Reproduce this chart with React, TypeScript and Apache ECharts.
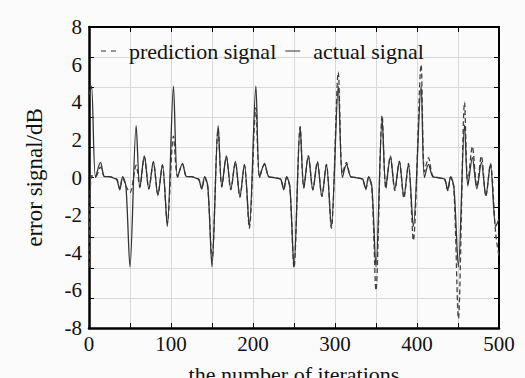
import React, { useEffect, useRef } from 'react';
import * as echarts from 'echarts';

const iterations = [
  0, 3, 8, 14, 19, 25, 31, 34, 37.5, 41, 45, 50, 57.5, 62, 67.5, 73, 78.5, 84, 89.5, 95.5,
  103, 108, 114, 119, 125, 131, 134, 137.5, 141, 145, 150, 157.5, 162, 167.5, 173, 178.5, 184, 189.5, 195.5,
  203.5, 208, 214, 219, 225, 231, 234, 237.5, 241, 245, 250, 257.5, 262, 267.5, 273, 278.5, 284, 289.5, 295.5,
  304, 309, 314, 319, 325, 331, 334, 337.5, 341, 345, 350, 357.5, 362, 367.5, 373, 378.5, 384, 389.5, 395.5,
  405, 409, 414, 419, 425, 431, 434, 437.5, 441, 445, 450.5, 458, 462, 467.5, 473, 478.5, 484, 489.5, 496, 500,
];

const actualSignal = [
  4.4, 4.85, 0.0, 0.8, 0.05, 0.05, -0.05, -0.1, -0.65, 0.05, -0.45, -4.75, 2.75, -0.55, 1.15, -0.6, 0.85, -0.95, 0.7, -2.6,
  4.85, 0.0, 0.75, 0.05, 0.05, -0.05, -0.1, -0.6, 0.05, -0.5, -4.75, 2.75, -0.5, 1.15, -0.6, 0.85, -1.0, 0.7, -2.6,
  4.85, 0.0, 0.75, 0.05, 0.0, -0.05, -0.1, -0.65, 0.05, -0.5, -4.75, 2.7, -0.55, 1.15, -0.65, 0.8, -1.0, 0.7, -2.6,
  4.85, 0.0, 0.7, 0.05, 0.0, -0.05, -0.1, -0.6, 0.05, -0.5, -4.75, 3.1, -0.5, 1.1, -0.6, 0.85, -1.0, 0.7, -2.6,
  4.85, 0.0, 0.7, 0.05, 0.0, -0.05, -0.1, -0.65, 0.05, -0.5, -4.75, 2.8, -0.45, 1.05, -0.6, 0.8, -0.95, 0.7, -2.6, -2.2,
];

const predictionSignal = [
  -4.75, 0.1, 0.05, 0.55, 0.05, 0.05, -0.05, -0.1, -0.6, 0.0, -0.45, -0.8, 0.65, -0.5, 1.1, -0.6, 0.8, -0.9, 0.65, -2.4,
  2.2, 0.05, 0.7, 0.05, 0.05, -0.05, -0.1, -0.6, 0.0, -0.6, -4.4, 2.6, -0.5, 1.1, -0.65, 0.8, -1.05, 0.65, -2.7,
  3.7, 0.05, 0.7, 0.05, 0.0, -0.05, -0.1, -0.6, 0.0, -0.55, -4.8, 2.7, -0.55, 1.15, -0.65, 0.85, -1.0, 0.7, -2.7,
  5.6, 0.2, 0.8, 0.05, 0.0, -0.05, -0.1, -0.65, 0.0, -0.6, -6.0, 3.3, -0.6, 1.15, -0.7, 0.85, -1.1, 0.75, -3.35,
  6.0, 0.3, 1.05, 0.1, 0.0, -0.05, -0.1, -0.7, 0.0, -0.6, -7.5, 4.0, -0.3, 1.65, -0.5, 1.15, -1.0, 0.75, -3.0, -4.2,
];

const xTicks = { min: 0, max: 500, interval: 50 };
const yLabelTicks = { min: -8, max: 8, interval: 2 };
const yGridTicks = { min: -8, max: 8, interval: 1.6 };

const FONT = 'Liberation Serif';

export default function App() {
  const ref = useRef<HTMLDivElement>(null);
  useEffect(() => {
    const chart = echarts.init(ref.current!, null, { renderer: 'svg' });
    const gridLine = { show: true, lineStyle: { color: '#dadada', width: 1 } };
    chart.setOption({
      animation: false,
      backgroundColor: '#fbfbfb',
      textStyle: { fontFamily: FONT },
      grid: { left: 89, right: 26, top: 27, bottom: 50, containLabel: false, outerBoundsMode: 'none' },
      legend: {
        left: 96,
        top: 35,
        itemWidth: 15,
        itemHeight: 1.6,
        itemGap: 9,
        data: [
          { name: 'prediction signal', icon: 'path://M0,0h5v1h-5z M10,0h5v1h-5z' },
          { name: 'actual signal', icon: 'path://M0,0h15v1h-15z' },
        ],
        textStyle: { fontFamily: FONT, fontSize: 22, color: '#111', padding: [0, 0, 0, 8] },
      },
      xAxis: [
        {
          type: 'value',
          position: 'bottom',
          ...xTicks,
          name: 'the number of iterations',
          nameLocation: 'middle',
          nameGap: 35,
          nameTextStyle: { fontFamily: FONT, fontSize: 22, color: '#111' },
          axisLine: { show: true, onZero: false, lineStyle: { color: '#000', width: 2.5 } },
          axisTick: { show: true, inside: true, length: 5, lineStyle: { color: '#000' } },
          axisLabel: {
            formatter: (v: number) => (v % 100 === 0 ? String(v) : ''),
            fontFamily: FONT,
            fontSize: 21,
            color: '#111',
            margin: 5,
          },
          splitLine: gridLine,
        },
        {
          type: 'value',
          position: 'top',
          ...xTicks,
          axisLine: { show: true, onZero: false, lineStyle: { color: '#000', width: 2 } },
          axisTick: { show: true, inside: true, length: 5, lineStyle: { color: '#000' } },
          axisLabel: { show: false },
          splitLine: { show: false },
        },
      ],
      yAxis: [
        {
          type: 'value',
          position: 'left',
          ...yLabelTicks,
          name: 'error signal/dB',
          nameLocation: 'middle',
          nameGap: 43,
          nameTextStyle: { fontFamily: FONT, fontSize: 23, color: '#111' },
          axisLine: { show: true, onZero: false, lineStyle: { color: '#000', width: 2.5 } },
          axisTick: { show: false },
          axisLabel: { fontFamily: FONT, fontSize: 21, color: '#111', margin: 7 },
          splitLine: { show: false },
        },
        {
          type: 'value',
          position: 'right',
          ...yGridTicks,
          axisLine: { show: true, onZero: false, lineStyle: { color: '#000', width: 2 } },
          axisTick: { show: true, inside: true, length: 5, lineStyle: { color: '#000' } },
          axisLabel: { show: false },
          splitLine: gridLine,
        },
        {
          type: 'value',
          position: 'left',
          ...yGridTicks,
          axisLine: { show: false },
          axisTick: { show: true, inside: true, length: 5, lineStyle: { color: '#000' } },
          axisLabel: { show: false },
          splitLine: { show: false },
        },
      ],
      series: [
        {
          name: 'prediction signal',
          type: 'line',
          xAxisIndex: 0,
          yAxisIndex: 0,
          data: iterations.map((x, i) => [x, predictionSignal[i]]),
          showSymbol: false,
          symbol: 'none',
          smooth: 0.3,
          lineStyle: { color: '#444', width: 1.3, type: [5, 3] },
          itemStyle: { color: '#333' },
          z: 3,
        },
        {
          name: 'actual signal',
          type: 'line',
          xAxisIndex: 0,
          yAxisIndex: 0,
          data: iterations.map((x, i) => [x, actualSignal[i]]),
          showSymbol: false,
          symbol: 'none',
          smooth: 0.3,
          lineStyle: { color: '#333', width: 1.3, type: 'solid' },
          itemStyle: { color: '#333' },
          z: 4,
        },
      ],
    });
    return () => chart.dispose();
  }, []);
  return (
    <>
      <style>{'#chart-box svg text { font-family: "Liberation Serif", serif !important; }'}</style>
      <div id="chart-box" ref={ref} style={{ position: 'absolute', left: 0, top: 0, width: 525, height: 378 }} />
    </>
  );
}
